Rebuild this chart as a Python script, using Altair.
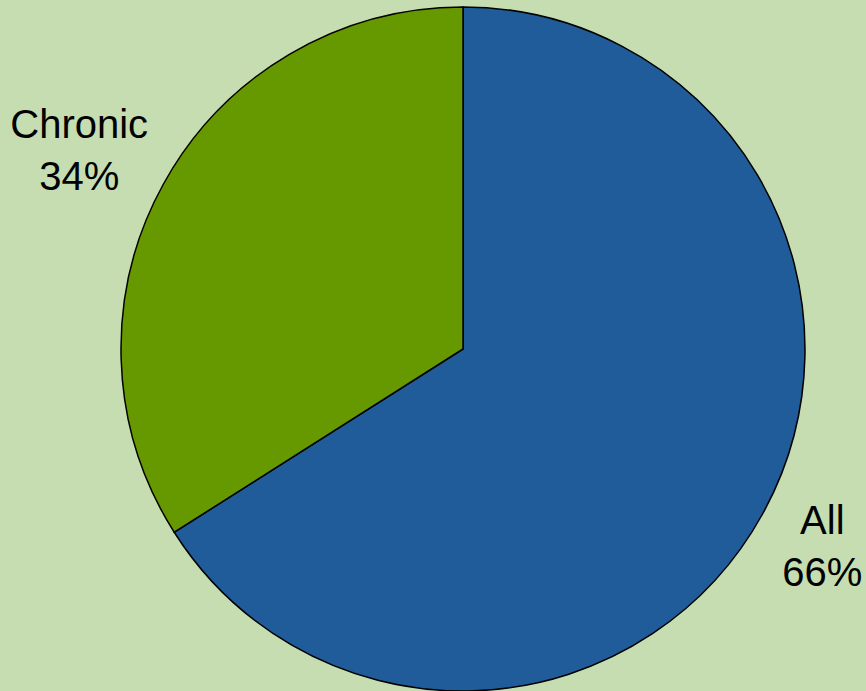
import altair as alt
import pandas as pd

categories = ["All", "Chronic"]
shares = [66, 34]
colors = ["#1F5C99", "#669900"]

df = pd.DataFrame({"cat": categories, "share": shares, "idx": [0, 1]})
df["label"] = df["cat"] + "\n" + df["share"].astype(str) + "%"

base = alt.Chart(df).encode(
    theta=alt.Theta("share:Q", stack=True),
    order=alt.Order("idx:Q"),
)

pie = base.mark_arc(radius=342, stroke="black", strokeWidth=1.5).encode(
    color=alt.Color("cat:N", scale=alt.Scale(domain=categories, range=colors), legend=None),
    x=alt.value(463),
    y=alt.value(349),
)

def label_layer(cat, r, dy):
    return base.mark_text(
        lineBreak="\n", fontSize=40, lineHeight=52, font="Liberation Sans",
        color="black", align="center", baseline="middle", radius=r, dy=dy
    ).encode(
        text="label:N",
        x=alt.value(463),
        y=alt.value(349),
        opacity=alt.condition(alt.datum.cat == cat, alt.value(1), alt.value(0)),
    )

chart = (pie + label_layer("Chronic", 438, -12) + label_layer("All", 410, -25)).properties(
    width=866, height=691, background="#C5DDB1", padding=0,
    autosize=alt.AutoSizeParams(type="none"),
).configure_view(stroke=None)

chart.save("out.html", embed_options={"renderer": "svg", "actions": False})
